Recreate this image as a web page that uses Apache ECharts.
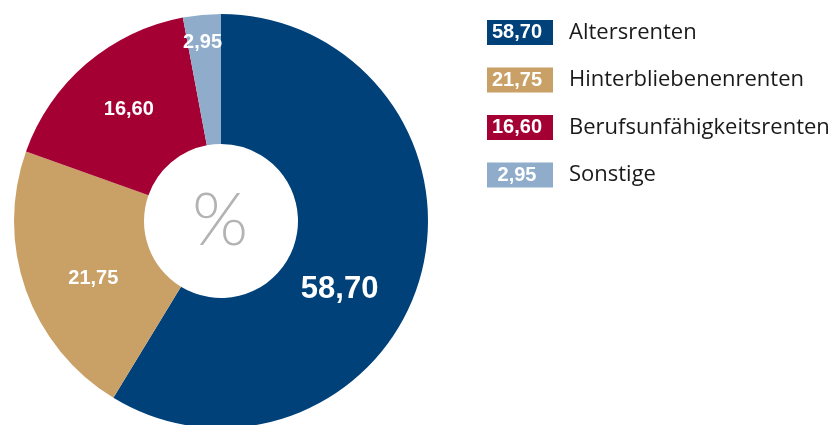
<!DOCTYPE html>
<html>
<head>
<meta charset="utf-8">
<script src="https://cdn.jsdelivr.net/npm/echarts@6/dist/echarts.min.js"></script>
<style>
  html, body { margin: 0; padding: 0; background: #fff; }
  #chart { width: 840px; height: 425px; }
</style>
</head>
<body>
<div id="chart"></div>
<script>
// Rentenarten in Prozent
var names = ['Altersrenten', 'Hinterbliebenenrenten', 'Berufsunfähigkeitsrenten', 'Sonstige'];
var values = [58.70, 21.75, 16.60, 2.95];
var colors = ['#00417a', '#c9a066', '#a50034', '#8fadca'];

var fmt = function (v) { return v.toFixed(2).replace('.', ','); };
var labelFont = 'Liberation Sans';

var myChart = echarts.init(document.getElementById('chart'));

// label-Verschiebungen wie im Original
var labelOffsets = [[-21, 29], [9, 9], [2, -1], [-5, -34]];
var labelSizes = [31, 20, 20, 20];

var seriesData = names.map(function (n, i) {
  return {
    name: n,
    value: values[i],
    itemStyle: { color: colors[i] },
    label: { offset: labelOffsets[i], fontSize: labelSizes[i] }
  };
});

var rich = { n: { fontSize: 22, color: '#1a1a1a', fontFamily: 'Open Sans', padding: [0, 0, 0, 16] } };
colors.forEach(function (c, i) {
  rich['v' + i] = {
    backgroundColor: c,
    color: '#fff',
    fontWeight: 'bold',
    fontSize: 20,
    fontFamily: labelFont,
    width: 60,
    height: 25,
    lineHeight: 25,
    align: 'right',
    padding: [0, 6, 0, 0]
  };
});

var option = {
  animation: false,
  legend: {
    orient: 'vertical',
    left: 482,
    top: 20,
    padding: 0,
    itemWidth: 0,
    itemHeight: 0,
    itemGap: 22.5,
    selectedMode: false,
    data: names,
    formatter: function (name) {
      var i = names.indexOf(name);
      return '{v' + i + '|' + fmt(values[i]) + '}{n|' + name + '}';
    },
    textStyle: { rich: rich }
  },
  graphic: [{
    type: 'text',
    x: 220,
    y: 222,
    style: {
      text: '%', fontSize: 72, fill: '#b3b3b3', fontFamily: 'Lato', fontWeight: 300,
      align: 'center', verticalAlign: 'middle'
    }
  }],
  series: [{
    type: 'pie',
    center: [221, 221],
    radius: [77, 207],
    startAngle: 90,
    clockwise: true,
    silent: true,
    emphasis: { disabled: true },
    label: {
      show: true,
      position: 'inside',
      color: '#fff',
      fontWeight: 'bold',
      fontFamily: labelFont,
      formatter: function (p) { return fmt(p.value); }
    },
    labelLine: { show: false },
    data: seriesData
  }]
};

myChart.setOption(option);
</script>
</body>
</html>
